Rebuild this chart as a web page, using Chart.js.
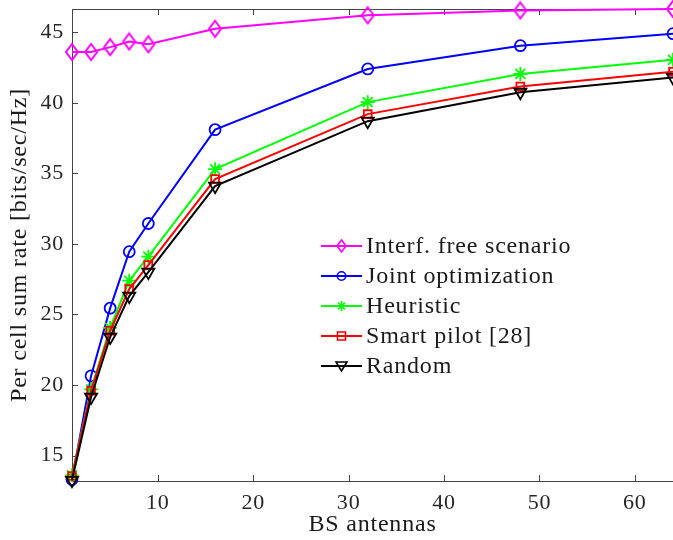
<!DOCTYPE html>
<html>
<head>
<meta charset="utf-8">
<script src="https://cdn.jsdelivr.net/npm/chart.js@4.4.1/dist/chart.umd.min.js"></script>
<style>
  html, body { margin: 0; padding: 0; background: #fff; }
  #wrap { width: 673px; height: 540px; }
</style>
</head>
<body>
<div id="wrap"><canvas id="rate"></canvas></div>
<script>
// BS antennas on x, per cell sum rate on y
const antennas = [1, 3, 5, 7, 9, 16, 32, 48, 64];
const interfFree = [43.6, 43.6, 43.95, 44.35, 44.15, 45.25, 46.2, 46.55, 46.65];
const jointOpt = [13.3, 20.65, 25.45, 29.45, 31.45, 38.1, 42.4, 44.05, 44.9];
const heuristic = [13.6, 19.7, 24.05, 27.4, 29.1, 35.3, 40.05, 42.05, 43.05];
const smartPilot = [13.55, 19.6, 23.85, 26.8, 28.5, 34.6, 39.2, 41.15, 42.2];
const randomPilot = [13.25, 19.15, 23.4, 26.3, 28.0, 34.1, 38.7, 40.75, 41.8];
const seriesNames = ['Interf. free scenario', 'Joint optimization', 'Heuristic', 'Smart pilot [28]', 'Random'];
const xTicks = [10, 20, 30, 40, 50, 60];
const yTicks = [15, 20, 25, 30, 35, 40, 45];

const FONT = '"Liberation Serif", "Times New Roman", serif';
const AXIS = '#444';

function diamond(w, h, color) {
  const c = document.createElement('canvas');
  c.width = w + 4; c.height = h + 4;
  const g = c.getContext('2d');
  g.strokeStyle = color; g.lineWidth = 2;
  g.beginPath();
  g.moveTo(c.width / 2, 2);
  g.lineTo(c.width - 2, c.height / 2);
  g.lineTo(c.width / 2, c.height - 2);
  g.lineTo(2, c.height / 2);
  g.closePath();
  g.stroke();
  return c;
}

function toPoints(ys) {
  return antennas.map((x, i) => ({ x: x, y: ys[i] }));
}

function series(name, ys, color, style, radius, rot, order) {
  return {
    label: name,
    data: toPoints(ys),
    borderColor: color,
    borderWidth: 2,
    pointStyle: style,
    pointRadius: radius,
    pointRotation: rot,
    pointBorderColor: color,
    pointBackgroundColor: 'rgba(0,0,0,0)',
    pointBorderWidth: 1.8,
    tension: 0,
    clip: false,
    order: order
  };
}

// legend drawn by hand inside the plot box
function legendMark(ctx, kind, color, x, y) {
  ctx.save();
  ctx.strokeStyle = color;
  ctx.lineWidth = 1.6;
  ctx.beginPath();
  if (kind === 'diamond') {
    ctx.moveTo(x, y - 6); ctx.lineTo(x + 4.5, y); ctx.lineTo(x, y + 6); ctx.lineTo(x - 4.5, y); ctx.closePath();
  } else if (kind === 'circle') {
    ctx.arc(x, y, 4.2, 0, Math.PI * 2);
  } else if (kind === 'star') {
    const r = 5;
    ctx.moveTo(x - r, y); ctx.lineTo(x + r, y);
    ctx.moveTo(x, y - r); ctx.lineTo(x, y + r);
    const d = r * 0.7;
    ctx.moveTo(x - d, y - d); ctx.lineTo(x + d, y + d);
    ctx.moveTo(x - d, y + d); ctx.lineTo(x + d, y - d);
  } else if (kind === 'square') {
    ctx.rect(x - 4, y - 4, 8, 8);
  } else if (kind === 'tri') {
    ctx.moveTo(x - 5.5, y - 4); ctx.lineTo(x + 5.5, y - 4); ctx.lineTo(x, y + 5); ctx.closePath();
  }
  ctx.stroke();
  ctx.restore();
}

const legendKinds = ['diamond', 'circle', 'star', 'square', 'tri'];

const framePlugin = {
  id: 'frame',
  beforeDraw(chart) {
    chart.ctx.letterSpacing = '0.8px';
  },
  beforeDatasetsDraw(chart) {
    const { ctx, chartArea: a, scales } = chart;
    ctx.save();
    ctx.strokeStyle = AXIS;
    ctx.lineWidth = 1;
    ctx.beginPath();
    ctx.moveTo(a.left, a.top + 0.5);
    ctx.lineTo(a.right, a.top + 0.5);
    xTicks.forEach(v => {
      const px = Math.round(scales.x.getPixelForValue(v)) + 0.5;
      ctx.moveTo(px, a.bottom); ctx.lineTo(px, a.bottom - 6);
      ctx.moveTo(px, a.top); ctx.lineTo(px, a.top + 6);
    });
    yTicks.forEach(v => {
      const py = Math.round(scales.y.getPixelForValue(v)) + 0.5;
      ctx.moveTo(a.left, py); ctx.lineTo(a.left + 6, py);
    });
    ctx.stroke();
    ctx.restore();
  },
  afterDraw(chart) {
    const { ctx, chartArea: a } = chart;
    const x0 = a.left + 249, y0 = a.top + 237, step = 30;
    ctx.save();
    chart.data.datasets.forEach((ds, i) => {
      const y = y0 + i * step;
      ctx.strokeStyle = ds.borderColor;
      ctx.lineWidth = 2;
      ctx.beginPath();
      ctx.moveTo(x0, y); ctx.lineTo(x0 + 41, y);
      ctx.stroke();
      legendMark(ctx, legendKinds[i], ds.borderColor, x0 + 20.5, y);
      ctx.fillStyle = '#1a1a1a';
      ctx.font = '24px ' + FONT;
      ctx.textBaseline = 'middle';
      ctx.textAlign = 'left';
      ctx.fillText(seriesNames[i], x0 + 45, y + 1);
    });
    ctx.restore();
  }
};

new Chart(document.getElementById('rate'), {
  type: 'line',
  data: {
    datasets: [
      series(seriesNames[0], interfFree, '#ff00ff', diamond(12, 16, '#ff00ff'), 7, 0, 4),
      series(seriesNames[1], jointOpt, '#0000ff', 'circle', 5.5, 0, 3),
      series(seriesNames[2], heuristic, '#00ff00', 'star', 7, 0, 2),
      series(seriesNames[3], smartPilot, '#ff0000', 'rect', 5.5, 0, 1),
      series(seriesNames[4], randomPilot, '#000000', 'triangle', 7, 180, 0)
    ]
  },
  options: {
    responsive: true,
    maintainAspectRatio: false,
    animation: false,
    layout: { autoPadding: false, padding: { left: 0, right: 0, top: 9, bottom: 0 } },
    plugins: {
      legend: { display: false },
      tooltip: { enabled: false }
    },
    scales: {
      x: {
        type: 'linear',
        min: 1,
        max: 64,
        afterBuildTicks: s => { s.ticks = xTicks.map(v => ({ value: v })); },
        afterFit: s => { s.height = 59; s.paddingLeft = 0; s.paddingRight = 0; },
        grid: { display: false, drawTicks: false },
        border: { display: true, color: AXIS, width: 1 },
        ticks: { color: '#262626', padding: 9, maxRotation: 0, font: { family: FONT, size: 22 } },
        title: {
          display: true,
          text: 'BS antennas',
          color: '#1a1a1a',
          font: { family: FONT, size: 24, lineHeight: 1 },
          padding: { top: 0, bottom: 3 }
        }
      },
      y: {
        min: 13.2,
        max: 46.65,
        afterBuildTicks: s => { s.ticks = yTicks.map(v => ({ value: v })); },
        afterFit: s => { s.width = 72; s.paddingTop = 0; s.paddingBottom = 0; },
        grid: { display: false, drawTicks: false },
        border: { display: true, color: AXIS, width: 1 },
        ticks: { color: '#262626', padding: 8, font: { family: FONT, size: 22 } },
        title: {
          display: true,
          text: 'Per cell sum rate [bits/sec/Hz]',
          color: '#1a1a1a',
          font: { family: FONT, size: 24, lineHeight: 1 },
          padding: { top: 8, bottom: 0 }
        }
      }
    }
  },
  plugins: [framePlugin]
});
</script>
</body>
</html>
